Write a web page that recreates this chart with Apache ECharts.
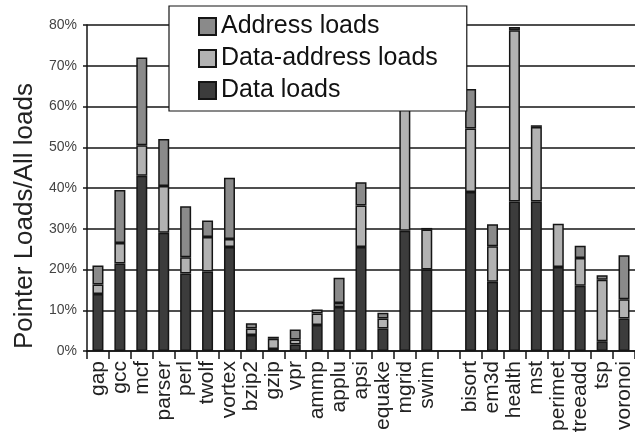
<!DOCTYPE html>
<html>
<head>
<meta charset="utf-8">
<script src="https://cdn.jsdelivr.net/npm/echarts@6/dist/echarts.min.js"></script>
<style>
  html, body { margin: 0; padding: 0; background: #fff; }
  #chart { width: 635px; height: 442px; }
</style>
</head>
<body>
<div id="chart"></div>
<script>
var categories = ['gap', 'gcc', 'mcf', 'parser', 'perl', 'twolf', 'vortex', 'bzip2', 'gzip', 'vpr',
  'ammp', 'applu', 'apsi', 'equake', 'mgrid', 'swim', '', 'bisort', 'em3d', 'health', 'mst',
  'perimet', 'treeadd', 'tsp', 'voronoi'];

// percent of all loads, stacked bottom to top: data, data-address, address
var dataLoads = [14, 21.5, 43, 29, 19, 19.5, 25.5, 3.9, 0.5, 1.6,
  6.4, 10.8, 25.5, 5.5, 29.5, 20, null, 39, 17, 36.7, 36.7,
  20.6, 16, 2.4, 8];
var dataAddressLoads = [2.3, 5, 7.5, 11.5, 4, 8.5, 2, 1.6, 2.5, 1.2,
  2.8, 1, 10.2, 2.5, 33, 9.8, null, 15.6, 8.7, 42, 18.3,
  10.6, 6.8, 15.1, 4.7];
var addressLoads = [4.7, 13, 21.5, 11.5, 12.5, 4, 15, 1.3, 0.5, 2.5,
  1, 6.2, 5.7, 1.4, null, 0.4, null, 9.7, 5.4, 0.8, 0.4,
  null, 3, 1.1, 10.8];

var yTicks = [0, 10, 20, 30, 40, 50, 60, 70, 80];

var font = 'Arial, "Liberation Sans", sans-serif';
var edge = '#151515';

function barSeries(name, values, color) {
  return {
    name: name,
    type: 'bar',
    stack: 'loads',
    barWidth: 11,
    data: values,
    itemStyle: { color: color, borderColor: edge, borderWidth: 1.5 }
  };
}

var chart = echarts.init(document.getElementById('chart'));
chart.setOption({
  backgroundColor: '#fff',
  animation: false,
  grid: { left: 87, top: 25, width: 553, bottom: 91 },
  legend: {
    orient: 'vertical',
    left: 169,
    top: 6,
    data: ['Address loads', 'Data-address loads', 'Data loads'],
    icon: 'rect',
    itemWidth: 17,
    itemHeight: 17,
    itemGap: 7,
    padding: [8, 29, 8, 29],
    backgroundColor: '#fff',
    borderColor: edge,
    borderWidth: 1.2,
    borderRadius: 0,
    textStyle: { fontFamily: font, fontSize: 25, color: '#111', lineHeight: 24 }
  },
  xAxis: {
    type: 'category',
    data: categories,
    axisLine: { lineStyle: { color: edge, width: 1.5 } },
    axisTick: { show: true, length: 8, lineStyle: { color: edge, width: 1.5 } },
    axisLabel: {
      interval: 0,
      rotate: 90,
      margin: 10,
      fontFamily: font,
      fontSize: 21,
      color: '#222'
    }
  },
  yAxis: {
    type: 'value',
    min: yTicks[0],
    max: yTicks[yTicks.length - 1],
    interval: 10,
    axisLine: { show: true, lineStyle: { color: edge, width: 1.5 } },
    axisTick: { show: true, length: 4, lineStyle: { color: edge, width: 1.5 } },
    axisLabel: {
      formatter: '{value}%',
      margin: 10,
      fontFamily: font,
      fontSize: 14,
      color: '#444'
    },
    splitLine: { show: true, lineStyle: { color: edge, width: 1.5 } }
  },
  graphic: [{
    type: 'text',
    x: 25,
    y: 216,
    rotation: Math.PI / 2,
    style: {
      text: 'Pointer Loads/All loads',
      font: '26px ' + font,
      fill: '#222',
      align: 'center',
      verticalAlign: 'middle'
    }
  }],
  series: [
    barSeries('Data loads', dataLoads, '#3c3c3c'),
    barSeries('Data-address loads', dataAddressLoads, '#b2b2b2'),
    barSeries('Address loads', addressLoads, '#8a8a8a')
  ]
});
</script>
</body>
</html>
